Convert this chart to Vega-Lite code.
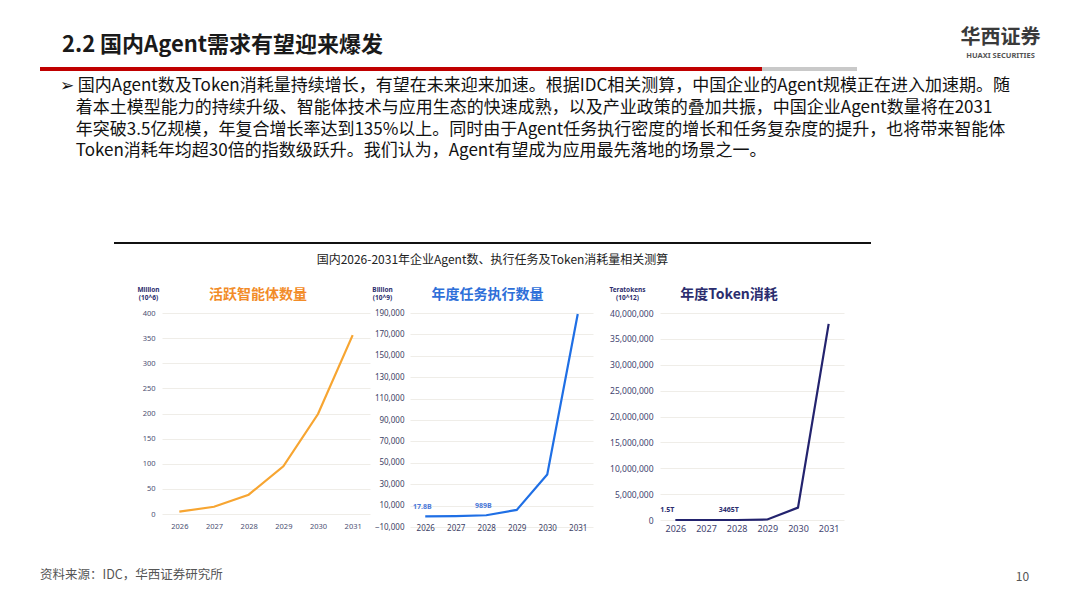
{
  "$schema": "https://vega.github.io/schema/vega-lite/v6.json",
  "background": "white",
  "padding": {"left": 40, "top": 27, "right": 10, "bottom": 5},
  "config": {"font": "Noto Sans CJK SC", "view": {"stroke": null}},
  "title": {
    "text": "资料来源：IDC，华西证券研究所",
    "orient": "bottom",
    "anchor": "start",
    "offset": -13,
    "fontSize": 12.5,
    "fontWeight": "normal",
    "color": "#555555"
  },
  "spacing": 6,
  "vconcat": [
    {
      "width": 817,
      "height": 4,
      "title": {"text": "2.2 国内Agent需求有望迎来爆发", "anchor": "start", "dx": 22, "offset": -30, "fontSize": 22, "fontWeight": "bold", "color": "#1a1a1a"},
      "data": {"values": [
        {"part": "a", "len": 722, "row": "r"},
        {"part": "b", "len": 95, "row": "r"}
      ]},
      "mark": {"type": "bar"},
      "encoding": {
        "x": {
          "field": "len", "type": "quantitative", "stack": "zero",
          "scale": {"domain": [0, 817], "nice": false},
          "axis": {
            "orient": "top", "labels": false, "ticks": false, "domain": false, "grid": false,
            "title": "华西证券", "titleX": 960, "titleY": -30, "titleAlign": "center", "titleBaseline": "middle",
            "titleFontSize": 20, "titleFontWeight": "bold", "titleColor": "#3a3a3a"
          }
        },
        "y": {
          "field": "row", "type": "nominal",
          "scale": {"paddingInner": 0, "paddingOuter": 0},
          "axis": {
            "orient": "right", "labels": false, "ticks": false, "domain": false, "grid": false,
            "title": "HUAXI SECURITIES", "titleAngle": 0, "titleX": 143, "titleY": -12, "titleAlign": "center",
            "titleBaseline": "middle", "titleFont": "Noto Sans", "titleFontSize": 7.5, "titleFontWeight": "bold", "titleColor": "#555555"
          }
        },
        "color": {"field": "part", "type": "nominal", "scale": {"domain": ["a", "b"], "range": ["#C00000", "#C9C9C9"]}, "legend": null}
      }
    },
    {
      "spacing": 20,
      "vconcat": [
        {
          "spacing": 0,
          "title": {
            "text": [
              "➢ 国内Agent数及Token消耗量持续增长，有望在未来迎来加速。根据IDC相关测算，中国企业的Agent规模正在进入加速期。随",
              "⠀ 着本土模型能力的持续升级、智能体技术与应用生态的快速成熟，以及产业政策的叠加共振，中国企业Agent数量将在2031",
              "⠀ 年突破3.5亿规模，年复合增长率达到135%以上。同时由于Agent任务执行密度的增长和任务复杂度的提升，也将带来智能体",
              "⠀ Token消耗年均超30倍的指数级跃升。我们认为，Agent有望成为应用最先落地的场景之一。"
            ],
            "anchor": "start",
            "dx": 20,
            "offset": 76,
            "fontSize": 17,
            "fontWeight": "normal",
            "lineHeight": 21.7,
            "color": "#111111"
          },
          "hconcat": [
            {
              "width": 74,
              "height": 1,
              "data": {"values": [{"k": 1}]},
              "mark": {"type": "text", "text": ""},
              "encoding": {}
            },
            {
              "width": 757,
              "height": 2,
              "view": {"fill": "#111111", "stroke": null},
              "title": {
                "text": "国内2026-2031年企业Agent数、执行任务及Token消耗量相关测算",
                "orient": "bottom",
                "anchor": "middle",
                "fontSize": 12,
                "fontWeight": "normal",
                "color": "#222222",
                "offset": 7
              },
              "data": {"values": [{"k": 1}]},
              "mark": {"type": "text", "text": ""},
              "encoding": {}
            }
          ]
        },
        {
          "spacing": 0,
          "hconcat": [
            {
              "width": 76,
              "height": 1,
              "data": {"values": [{"k": 1}]},
              "mark": {"type": "text", "text": ""},
              "encoding": {}
            },
            {
              "width": 208,
              "height": 201,
              "title": {"text": "活跃智能体数量", "color": "#F28C28", "fontSize": 14, "fontWeight": "bold", "dx": -8, "offset": -16},
              "data": {"values": [
                {"year": "2026", "value": 4.6},
                {"year": "2027", "value": 14.5},
                {"year": "2028", "value": 38.4},
                {"year": "2029", "value": 95},
                {"year": "2030", "value": 199},
                {"year": "2031", "value": 356}
              ]},
              "mark": {"type": "line", "color": "#F7A531", "strokeWidth": 2.2},
              "encoding": {
                "x": {
                  "field": "year", "type": "ordinal",
                  "scale": {"type": "point", "padding": 0.5},
                  "axis": {
                    "labelAngle": 0, "domain": false, "ticks": false, "labelFont": "Noto Sans",
                    "labelFontSize": 7.5, "labelColor": "#4b4f73", "labelPadding": 8, "title": null
                  }
                },
                "y": {
                  "field": "value", "type": "quantitative",
                  "scale": {"domain": [0, 400]},
                  "axis": {
                    "values": [0, 50, 100, 150, 200, 250, 300, 350, 400],
                    "domain": false, "ticks": false, "gridColor": "#efede8",
                    "labelFont": "Noto Sans", "labelFontSize": 7.5, "labelColor": "#4b4f73", "labelPadding": 7,
                    "minExtent": 46, "maxExtent": 46,
                    "title": ["Million", "(10^6)"], "titleAngle": 0, "titleX": -14, "titleY": -21,
                    "titleAlign": "center", "titleBaseline": "bottom", "titleFont": "Noto Sans",
                    "titleFontSize": 6.5, "titleFontWeight": "bold", "titleColor": "#2b2d6e", "titleLineHeight": 8
                  }
                }
              }
            },
            {
              "width": 183,
              "height": 214,
              "title": {"text": "年度任务执行数量", "color": "#2E6FD9", "fontSize": 14, "fontWeight": "bold", "dx": -14, "offset": -16},
              "data": {"values": [
                {"year": "2026", "value": 17.8, "label": "17.8B"},
                {"year": "2027", "value": 250, "label": ""},
                {"year": "2028", "value": 989, "label": "989B"},
                {"year": "2029", "value": 6000, "label": ""},
                {"year": "2030", "value": 39000, "label": ""},
                {"year": "2031", "value": 189000, "label": ""}
              ]},
              "encoding": {
                "x": {
                  "field": "year", "type": "ordinal",
                  "scale": {"type": "point", "padding": 0.5},
                  "axis": {
                    "labelAngle": 0, "domain": false, "ticks": false, "labelFont": "Noto Sans",
                    "labelFontSize": 8, "labelColor": "#3c4165", "labelPadding": -3, "title": null
                  }
                },
                "y": {
                  "field": "value", "type": "quantitative",
                  "scale": {"domain": [-10000, 190000]},
                  "axis": {
                    "values": [-10000, 10000, 30000, 50000, 70000, 90000, 110000, 130000, 150000, 170000, 190000],
                    "format": ",.0f", "domain": false, "ticks": false, "gridColor": "#efede8",
                    "labelFont": "Noto Sans", "labelFontSize": 8, "labelColor": "#3c4165", "labelPadding": 6,
                    "minExtent": 40, "maxExtent": 40,
                    "title": ["Billion", "(10^9)"], "titleAngle": 0, "titleX": -28, "titleY": -21,
                    "titleAlign": "center", "titleBaseline": "bottom", "titleFont": "Noto Sans",
                    "titleFontSize": 6.5, "titleFontWeight": "bold", "titleColor": "#2b2d6e", "titleLineHeight": 8
                  }
                }
              },
              "layer": [
                {"mark": {"type": "line", "color": "#1F6FE5", "strokeWidth": 2.2}},
                {
                  "mark": {"type": "text", "dy": -9, "dx": -3, "fontSize": 7, "fontWeight": "bold", "color": "#4a78d8", "font": "Noto Sans"},
                  "encoding": {"text": {"field": "label"}}
                }
              ]
            },
            {
              "width": 184,
              "height": 207,
              "title": {"text": "年度Token消耗", "color": "#2B2D6E", "fontSize": 14, "fontWeight": "bold", "dx": -23, "offset": -16},
              "data": {"values": [
                {"year": "2026", "value": 1.5, "label": "1.5T"},
                {"year": "2027", "value": 60, "label": ""},
                {"year": "2028", "value": 3465, "label": "3465T"},
                {"year": "2029", "value": 100000, "label": ""},
                {"year": "2030", "value": 2400000, "label": ""},
                {"year": "2031", "value": 37900000, "label": ""}
              ]},
              "encoding": {
                "x": {
                  "field": "year", "type": "ordinal",
                  "scale": {"type": "point", "padding": 0.5},
                  "axis": {
                    "labelAngle": 0, "domain": false, "ticks": false, "labelFont": "Noto Sans",
                    "labelFontSize": 9, "labelColor": "#3f4470", "labelPadding": 4,
                    "title": "10", "titleX": 362, "titleY": 56, "titleAlign": "center", "titleBaseline": "middle",
                    "titleFontSize": 12, "titleFontWeight": "normal", "titleColor": "#555555"
                  }
                },
                "y": {
                  "field": "value", "type": "quantitative",
                  "scale": {"domain": [0, 40000000]},
                  "axis": {
                    "values": [0, 5000000, 10000000, 15000000, 20000000, 25000000, 30000000, 35000000, 40000000],
                    "format": ",.0f", "domain": false, "ticks": false, "gridColor": "#efede8",
                    "labelFont": "Noto Sans", "labelFontSize": 8.5, "labelColor": "#3f4470", "labelPadding": 7,
                    "minExtent": 67, "maxExtent": 67,
                    "title": ["Teratokens", "(10^12)"], "titleAngle": 0, "titleX": -33, "titleY": -21,
                    "titleAlign": "center", "titleBaseline": "bottom", "titleFont": "Noto Sans",
                    "titleFontSize": 6.5, "titleFontWeight": "bold", "titleColor": "#2b2d6e", "titleLineHeight": 8
                  }
                }
              },
              "layer": [
                {"mark": {"type": "line", "color": "#23236E", "strokeWidth": 2.2}},
                {
                  "mark": {"type": "text", "dy": -10, "dx": -8, "fontSize": 7, "fontWeight": "bold", "color": "#2b2d6e", "font": "Noto Sans"},
                  "encoding": {"text": {"field": "label"}}
                }
              ]
            }
          ]
        }
      ]
    }
  ]
}
